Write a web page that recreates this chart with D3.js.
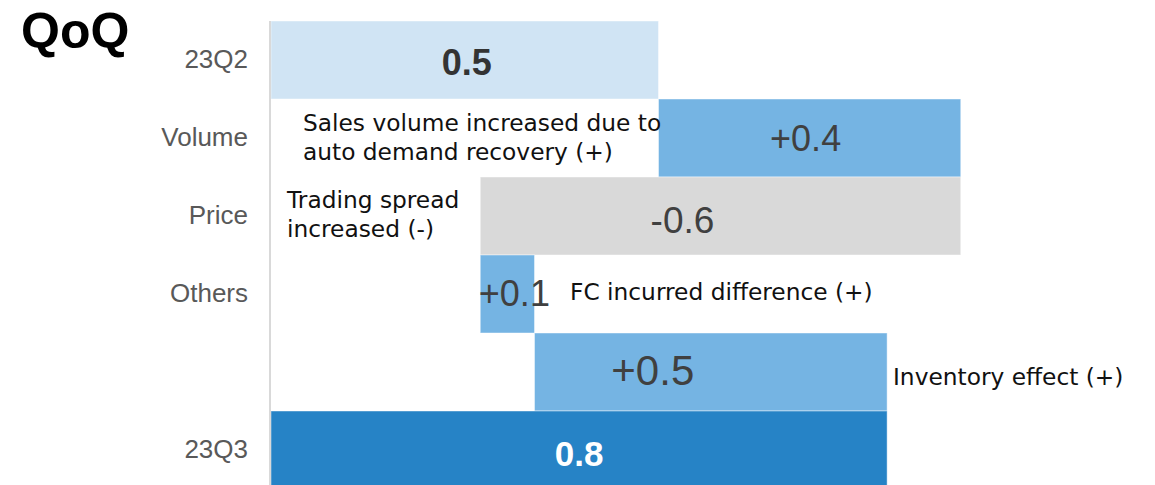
<!DOCTYPE html>
<html>
<head>
<meta charset="utf-8">
<script src="https://cdn.jsdelivr.net/npm/d3@7"></script>
<style>
  html, body { margin: 0; padding: 0; background: #fff; }
  svg { display: block; }
</style>
</head>
<body>
<svg id="chart" width="1155" height="485"></svg>
<script>
// ---- data ----
const categories = ["23Q2", "Volume", "Price", "Others", "Inventory", "23Q3"];
const tickLabels = ["23Q2", "Volume", "Price", "Others", "", "23Q3"];
const kinds = ["total", "delta", "delta", "delta", "delta", "total"];
const values = [0.5, 0.39, -0.62, 0.07, 0.455, 0.795];
const valueLabels = ["0.5", "+0.4", "-0.6", "+0.1", "+0.5", "0.8"];
const notes = [
  [],
  ["Sales volume increased due to", "auto demand recovery (+)"],
  ["Trading spread", "increased (-)"],
  ["FC incurred difference (+)"],
  ["Inventory effect (+)"],
  []
];

// ---- layout ----
const svg = d3.select("#chart");
const x = d3.scaleLinear().domain([0, 1.1]).range([271, 271 + 1.1 * 775]);
const y = d3.scaleBand().domain(categories).range([21, 21 + 78 * 6]).padding(0);

// compute waterfall extents
let run = 0;
const rows = categories.map((c, i) => {
  let x0, x1;
  if (kinds[i] === "total") { x0 = 0; x1 = values[i]; run = values[i]; }
  else { const s = run; run = run + values[i]; x0 = Math.min(s, run); x1 = Math.max(s, run); }
  return { c, i, x0, x1, v: values[i] };
});

const fills = ["#d0e4f4", "#75b4e3", "#d9d9d9", "#75b4e3", "#75b4e3", "#2683c6"];

svg.append("g").selectAll("rect").data(rows).join("rect")
  .attr("x", d => x(d.x0))
  .attr("y", d => y(d.c))
  .attr("width", d => x(d.x1) - x(d.x0))
  .attr("height", y.bandwidth())
  .attr("fill", (d, i) => fills[i])
  .attr("stroke", "rgba(255,255,255,0.45)")
  .attr("stroke-width", 1);

// category axis
const axis = d3.axisLeft(y).tickSize(0).tickPadding(22).tickFormat((d, i) => tickLabels[i]);
const ag = svg.append("g").attr("transform", "translate(270,0)").call(axis);
ag.select(".domain").remove();
ag.selectAll("text")
  .attr("font-family", "Liberation Sans, Arial, sans-serif")
  .attr("font-size", 26)
  .attr("fill", "#595959");
svg.append("line")
  .attr("x1", 270).attr("x2", 270)
  .attr("y1", y.range()[0]).attr("y2", 485)
  .attr("stroke", "#d9d9d9").attr("stroke-width", 2);

// value labels (offset in px from bar centre, vertical offset)
const labelDx = [2, -4, -38, 7, -58, 0];
const labelDy = [2, 0, 4, -1, -2, 3];
const labelSize = [36, 36, 37, 36, 42, 35];
const labelWeight = ["bold", "normal", "normal", "normal", "normal", "bold"];
const labelColor = ["#333333", "#404040", "#404040", "#404040", "#404040", "#ffffff"];
svg.append("g").selectAll("text").data(rows).join("text")
  .attr("x", (d, i) => (x(d.x0) + x(d.x1)) / 2 + labelDx[i])
  .attr("y", (d, i) => y(d.c) + y.bandwidth() / 2 + labelDy[i])
  .attr("text-anchor", "middle")
  .attr("dominant-baseline", "central")
  .attr("font-family", "Liberation Sans, Arial, sans-serif")
  .attr("font-size", (d, i) => labelSize[i])
  .attr("font-weight", (d, i) => labelWeight[i])
  .attr("fill", (d, i) => labelColor[i])
  .text((d, i) => valueLabels[i]);

// annotations
const noteX = [0, 303, 287, 570, 893, 0];
const noteY = [0, 122, 199, 291, 376, 0];
const ng = svg.append("g")
  .attr("font-family", "DejaVu Sans, sans-serif")
  .attr("font-size", 23.3)
  .attr("fill", "#111");
notes.forEach((lines, i) => {
  lines.forEach((t, k) => {
    ng.append("text")
      .attr("x", noteX[i])
      .attr("y", noteY[i] + k * 29)
      .attr("dominant-baseline", "central")
      .text(t);
  });
});

// title
svg.append("text")
  .attr("x", 21).attr("y", 48)
  .attr("font-family", "Liberation Sans, Arial, sans-serif")
  .attr("font-weight", "bold")
  .attr("font-size", 50)
  .attr("fill", "#000")
  .text("QoQ");
</script>
</body>
</html>
